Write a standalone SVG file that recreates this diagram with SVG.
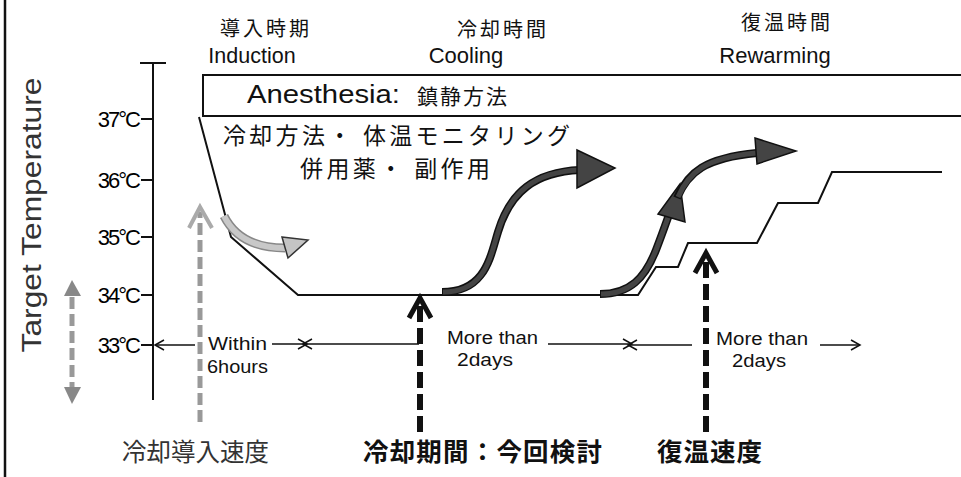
<svg xmlns="http://www.w3.org/2000/svg" width="961" height="477" viewBox="0 0 961 477">
<defs>
<style>
.lat{font-family:"Liberation Sans",Arial,sans-serif;fill:#111}
.jp{font-family:"Noto Sans CJK JP","Liberation Sans",sans-serif;fill:#111}
.ln{stroke:#111;fill:none;stroke-width:2}
.dim{stroke:#111;fill:none;stroke-width:1.5}
.thick{stroke:#111;stroke-width:8;fill:none;stroke-linecap:butt}
.thickin{stroke:#444;stroke-width:5;fill:none}
.bdash{stroke:#111;stroke-width:6;fill:none;stroke-dasharray:16 6}
.gdash{stroke:#999;stroke-width:5;fill:none;stroke-dasharray:12 5}
</style>
</defs>
<rect width="961" height="477" fill="#fff"/>
<line x1="5" y1="0" x2="5" y2="477" stroke="#111" stroke-width="2.5"/>

<g id="axis">
<line class="ln" x1="153" y1="63" x2="153" y2="400"/>
<line class="ln" x1="140" y1="63" x2="166" y2="63"/>
<line class="ln" x1="141" y1="119" x2="153" y2="119"/>
<line class="ln" x1="141" y1="180" x2="153" y2="180"/>
<line class="ln" x1="141" y1="237" x2="153" y2="237"/>
<line class="ln" x1="141" y1="295" x2="153" y2="295"/>
<line class="ln" x1="141" y1="345" x2="153" y2="345"/>
<g class="lat" font-size="22" text-anchor="end" letter-spacing="-2" style="fill:#000">
<text x="139" y="127">37°C</text>
<text x="139" y="188">36°C</text>
<text x="139" y="245">35°C</text>
<text x="139" y="303">34°C</text>
<text x="139" y="353">33°C</text>
</g>
<text class="lat" font-size="27" text-anchor="middle" transform="translate(41,215) rotate(-90)" textLength="275" lengthAdjust="spacingAndGlyphs" style="fill:#333">Target Temperature</text>
</g>

<g id="headers">
<text class="jp" x="266" y="36" font-size="20" letter-spacing="3" text-anchor="middle">導入時期</text>
<text class="lat" x="252" y="63" font-size="21.5" text-anchor="middle">Induction</text>
<text class="jp" x="503" y="37" font-size="20" letter-spacing="3" text-anchor="middle">冷却時間</text>
<text class="lat" x="466" y="63" font-size="22" text-anchor="middle">Cooling</text>
<text class="jp" x="787" y="30" font-size="20" letter-spacing="3" text-anchor="middle">復温時間</text>
<text class="lat" x="775" y="63" font-size="22" text-anchor="middle">Rewarming</text>
</g>

<g id="anesthesia">
<path class="ln" d="M961 75 H203 V116 H961"/>
<text class="lat" x="247" y="103" font-size="26" textLength="153" lengthAdjust="spacingAndGlyphs">Anesthesia:</text>
<text class="jp" x="417" y="104" font-size="21" letter-spacing="2">鎮静方法</text>
</g>

<g id="notes">
<text class="jp" x="223" y="144" font-size="23" textLength="347" lengthAdjust="spacing">冷却方法・ 体温モニタリング</text>
<text class="jp" x="300" y="177" font-size="23" textLength="190" lengthAdjust="spacing">併用薬・ 副作用</text>
</g>

<g id="curve">
<polyline class="ln" points="199,117 231,237 298,295 638,295 656,267 678,267 688,243 757,243 778,203 818,203 832,172 942,172"/>
</g>

<g id="connectors">
<!-- induction gray curved arrow -->
<path d="M224 216 Q240 248 285 248" stroke="#888" stroke-width="9" fill="none"/>
<path d="M224 216 Q240 248 285 248" stroke="#c8c8c8" stroke-width="6" fill="none"/>
<polygon points="282,237 308,240 288,258" fill="#c4c4c4" stroke="#333" stroke-width="1.5"/>

<!-- gray dashed up arrow -->
<line class="gdash" x1="200" y1="422" x2="200" y2="212"/>
<polyline points="189,228 200,207 212,228" fill="none" stroke="#aaa" stroke-width="4"/>

<!-- gray double arrow (range) -->
<line class="gdash" x1="72" y1="297" x2="72" y2="388" stroke-dasharray="9 6"/>
<polygon points="72,280 64,296 81,296" fill="#888"/>
<polygon points="72,404 64,387 81,387" fill="#888"/>

<!-- cooling thick arrow -->
<path class="thick" d="M442 292 C485 292 490 258 498 232 C510 192 535 172 580 170"/>
<path class="thickin" d="M443 292 C485 292 490 258 498 232 C510 192 535 172 579 170"/>
<polygon points="577,150 615,168 577,188" fill="#444" stroke="#111" stroke-width="1.5"/>

<!-- rewarming thick arrow -->
<path class="thick" d="M600 294 C630 294 645 278 656 250 C663 232 667 220 670 212"/>
<path class="thickin" d="M601 294 C630 294 645 278 656 250 C663 232 667 220 670 212"/>
<polygon points="680,184 658,214 685,222" fill="#444" stroke="#111" stroke-width="1.5"/>
<path class="thick" d="M677 198 C688 172 705 158 757 153"/>
<path class="thickin" d="M678 197 C689 172 705 158 756 153"/>
<polygon points="755,138 796,151 757,164" fill="#444" stroke="#111" stroke-width="1.5"/>

<!-- black dashed up arrows -->
<line class="bdash" x1="420" y1="432" x2="420" y2="306"/>
<polyline points="409,318 420,298 431,318" fill="none" stroke="#111" stroke-width="5"/>
<line class="bdash" x1="706" y1="432" x2="706" y2="262"/>
<polyline points="695,273 706,253 717,273" fill="none" stroke="#111" stroke-width="5"/>

<!-- dimension lines -->
<line class="dim" x1="155" y1="345" x2="195" y2="345"/>
<polyline class="dim" points="164,340 155,345 164,350"/>
<line class="dim" x1="272" y1="344" x2="307" y2="344"/>
<polyline class="dim" points="298,339 307,344 298,349"/>
<line class="dim" x1="303" y1="344" x2="419" y2="344"/>
<polyline class="dim" points="312,339 303,344 312,349"/>
<line class="dim" x1="548" y1="344" x2="632" y2="344"/>
<polyline class="dim" points="623,339 632,344 623,349"/>
<line class="dim" x1="628" y1="345" x2="692" y2="345"/>
<polyline class="dim" points="637,340 628,345 637,350"/>
<line class="dim" x1="820" y1="345" x2="860" y2="345"/>
<polyline class="dim" points="851,340 860,345 851,350"/>
</g>

<g id="durations">
<text class="lat" x="208" y="350" font-size="18" textLength="59" lengthAdjust="spacingAndGlyphs">Within</text>
<text class="lat" x="207" y="373" font-size="18" textLength="61" lengthAdjust="spacingAndGlyphs">6hours</text>
<text class="lat" x="447" y="344" font-size="17.5" textLength="91" lengthAdjust="spacingAndGlyphs">More than</text>
<text class="lat" x="457" y="366" font-size="17.5" textLength="56" lengthAdjust="spacingAndGlyphs">2days</text>
<text class="lat" x="716" y="345" font-size="17.5" textLength="92" lengthAdjust="spacingAndGlyphs">More than</text>
<text class="lat" x="732" y="367" font-size="17.5" textLength="54" lengthAdjust="spacingAndGlyphs">2days</text>
</g>

<g id="bottom-labels">
<text class="jp" x="122" y="461" font-size="24.5" style="fill:#333">冷却導入速度</text>
<text class="jp" x="363" y="461" font-size="25.5" font-weight="bold" textLength="239" lengthAdjust="spacing">冷却期間：今回検討</text>
<text class="jp" x="657" y="461" font-size="25.5" font-weight="bold" textLength="105" lengthAdjust="spacing">復温速度</text>
</g>
</svg>
